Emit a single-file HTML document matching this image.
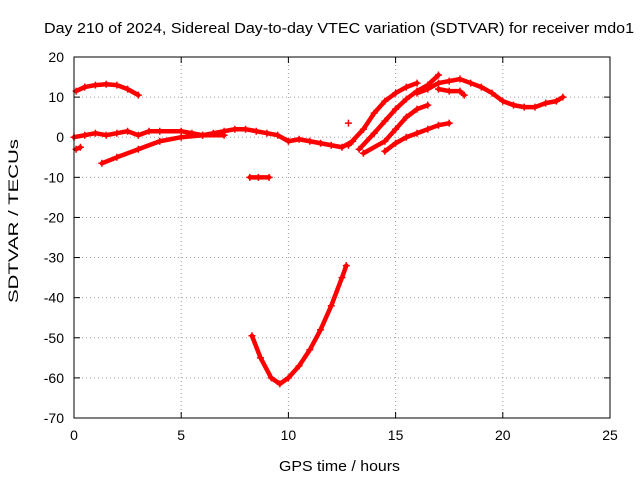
<!DOCTYPE html>
<html><head><meta charset="utf-8"><style>
body{margin:0;background:#fff;}
svg{font-family:"Liberation Sans",sans-serif;}
</style></head><body>
<svg id="chart" width="640" height="480" xmlns="http://www.w3.org/2000/svg">
<rect width="640" height="480" fill="#fff"/>
<text x="44" y="33" font-size="15" textLength="590" lengthAdjust="spacingAndGlyphs">Day 210 of 2024, Sidereal Day-to-day VTEC variation (SDTVAR) for receiver mdo1</text>
<text x="279" y="471" font-size="15" textLength="121" lengthAdjust="spacingAndGlyphs">GPS time / hours</text>
<text transform="translate(18,303) rotate(-90)" font-size="14" textLength="164" lengthAdjust="spacingAndGlyphs">SDTVAR / TECUs</text>
<g id="grid"></g><g id="ticks"></g><g id="marks"></g>
<rect x="74" y="57" width="536" height="361" fill="none" stroke="#000" stroke-width="1"/>
</svg>
<script>
const xTicks=[0,5,10,15,20,25];
const yTicks=[20,10,0,-10,-20,-30,-40,-50,-60,-70];
const trackTopArc=[[0.1,11.5],[0.5,12.5],[1,13],[1.5,13.2],[2,13],[2.5,12],[3,10.5]];
const trackMain=[[0,0],[0.5,0.5],[1,1],[1.5,0.5],[2,1],[2.5,1.5],[3,0.5],[3.5,1.5],[4,1.5],[5,1.5],[5.5,1],[6,0.5],[6.5,1],[7,1.5],[7.5,2],[8,2],[8.5,1.5],[9,1],[9.5,0.5],[10,-1],[10.5,-0.5],[11,-1],[11.5,-1.5],[12,-2],[12.5,-2.5],[13,-1]];
const trackEarly=[[0.1,-3],[0.3,-2.5]];
const trackRise=[[1.3,-6.5],[2,-5],[3,-3],[4,-1],[5,0],[6,0.5],[7,0.5]];
const trackShort=[[8.2,-10],[8.6,-10],[9.1,-10]];
const trackV=[[8.3,-49.5],[8.7,-55],[9.2,-60],[9.6,-61.5],[10,-60],[10.5,-57],[11,-53],[11.5,-48],[12,-42],[12.5,-35],[12.7,-32]];
const trackA=[[12.8,-2],[13.5,2],[14,6],[14.5,9],[15,11],[15.5,12.5],[16,13.5]];
const trackB=[[13.3,-3],[14,1],[14.5,4],[15,7],[15.5,9.5],[16,11.5],[16.5,13],[17,15.5]];
const trackC=[[13.5,-4],[14.5,-1],[15,2],[15.5,5],[16,7],[16.5,8]];
const trackD=[[14.5,-3.5],[15,-1.5],[15.5,0],[16,1],[16.5,2],[17,3],[17.5,3.5]];
const trackE=[[16,11],[16.5,12],[17,13.5],[17.5,14],[18,14.5],[18.5,13.5],[19,12.5],[19.5,11],[20,9],[20.5,8],[21,7.5],[21.5,7.5],[22,8.5],[22.5,9],[22.8,10]];
const trackF=[[17,12],[17.5,11.5],[18,11.5],[18.2,10.5]];
const outliers=[[12.8,3.5]];
const tracks=[trackTopArc,trackMain,trackEarly,trackRise,trackShort,trackV,trackA,trackB,trackC,trackD,trackE,trackF,outliers];

const X0=74,X1=610,Y0=418,Y1=57;
function xs(v){return X0+(v-0)/25*(X1-X0);}
function ys(v){return Y0-(v+70)/90*(Y0-Y1);}
const NS="http://www.w3.org/2000/svg";
const grid=document.getElementById('grid'),ticks=document.getElementById('ticks'),marks=document.getElementById('marks');
function mk(t,a,p){const e=document.createElementNS(NS,t);for(const k in a)e.setAttribute(k,a[k]);p.appendChild(e);return e;}
xTicks.forEach(t=>{
  const x=xs(t);
  const g=mk('line',{x1:x,x2:x,y1:Y1,y2:Y0,stroke:'#a0a0a0','stroke-dasharray':'1,3'},grid);
  
  
  mk('line',{x1:x,x2:x,y1:Y0,y2:Y0-6,stroke:'#000'},ticks);
  mk('line',{x1:x,x2:x,y1:Y1,y2:Y1+6,stroke:'#000'},ticks);
  const l=mk('text',{x:x,y:Y0+22,'text-anchor':'middle','font-size':'14'},ticks);
  l.textContent=t;
  
  
});
yTicks.forEach(t=>{
  const y=ys(t);
  const g=mk('line',{x1:X0,x2:X1,y1:y,y2:y,stroke:'#a0a0a0','stroke-dasharray':'1,3'},grid);
  
  
  mk('line',{x1:X0,x2:X0+6,y1:y,y2:y,stroke:'#000'},ticks);
  mk('line',{x1:X1,x2:X1-6,y1:y,y2:y,stroke:'#000'},ticks);
  const l=mk('text',{x:X0-10,y:y+5,'text-anchor':'end','font-size':'14'},ticks);
  l.textContent=t;
  
  
});
tracks.forEach(tr=>{
  if(tr.length>1){
    const p=mk('polyline',{points:tr.map(d=>xs(d[0])+','+ys(d[1])).join(' '),fill:'none',stroke:'#ff0000','stroke-width':'4.5','stroke-linejoin':'round','stroke-linecap':'round'},marks);
    
    
  }
  tr.forEach(d=>{
    const x=xs(d[0]),y=ys(d[1]);
    const m=mk('path',{d:`M${x-3.5},${y}H${x+3.5}M${x},${y-3.5}V${y+3.5}`,stroke:'#ff0000','stroke-width':'1.5'},marks);
    
    
  });
});
</script>
</body></html>
